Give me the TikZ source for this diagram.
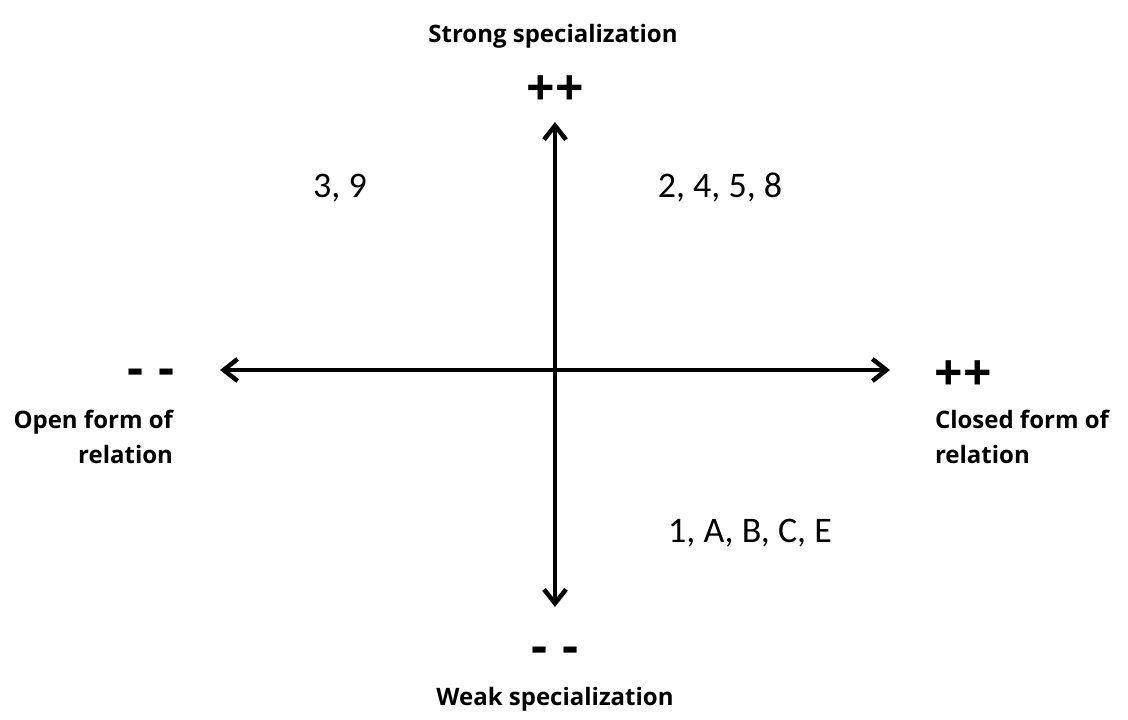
\documentclass[tikz,border=0pt]{standalone}
\usepackage{fontspec}
\setmainfont{Open Sans}
\newfontfamily\numfont{Carlito}
\usetikzlibrary{arrows.meta}
\tikzset{
  every node/.style={inner sep=0pt, outer sep=0pt},
  axis/.style={line width=4.5pt, {Straight Barb[length=14pt,width=22pt]}-{Straight Barb[length=14pt,width=22pt]}},
  title/.style={anchor=base, font=\bfseries\fontsize{24}{30}\selectfont},
  sign/.style={anchor=base, font=\bfseries\fontsize{50}{55}\selectfont},
  num/.style={anchor=base, font=\numfont\fontsize{36}{40}\selectfont},
  side/.style={font=\bfseries\fontsize{24}{35}\selectfont, align=#1}
}
\newcommand{\dd}{-\kern0.3em-}
\begin{document}
\begin{tikzpicture}[x=1pt,y=-1pt]
\useasboundingbox (0,0) rectangle (1128,720);
\coordinate (top) at (555,122);
\coordinate (bot) at (555,607);
\coordinate (left) at (220,370);
\coordinate (right) at (890,370);
\draw[axis] (bot) -- (top);
\draw[axis] (left) -- (right);
\node[title] (strong) at (553,42) {Strong specialization};
\node[title] (weak) at (555,705) {Weak specialization};
\node[sign] (ptop) at (555,105) {++};
\node[sign] (mbot) at (555,663) {\dd};
\node[sign] (mleft) at (151,385) {\dd};
\node[sign] (pright) at (963,390) {++};
\node[side=right, anchor=base east] (open) at (173,463) {Open form of\\relation};
\node[side=left, anchor=base west] (closed) at (935,463) {Closed form of\\relation};
\node[num] (q1) at (340,197) {3, 9};
\node[num] (q2) at (720,197) {2, 4, 5, 8};
\node[num] (q4) at (750,542) {1, A, B, C, E};
\end{tikzpicture}
\end{document}
